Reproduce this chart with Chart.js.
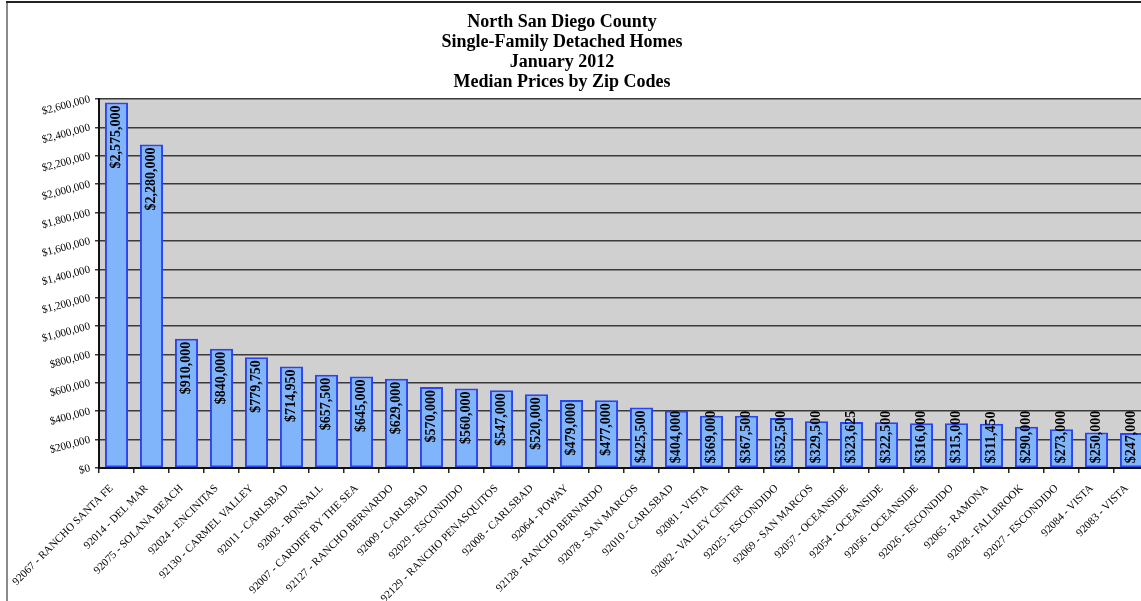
<!DOCTYPE html>
<html>
<head>
<meta charset="utf-8">
<script src="https://cdn.jsdelivr.net/npm/chart.js@4/dist/chart.umd.min.js"></script>
<style>
  html, body { margin: 0; padding: 0; overflow: hidden; background: #fff; }
  #wrap { width: 1150px; height: 601px; }
</style>
</head>
<body>
<div id="wrap"><canvas id="priceChart" width="1150" height="601"></canvas></div>
<script>
// Median prices by zip code, January 2012
const zipCodes = [
    '92067 - RANCHO SANTA FE', '92014 - DEL MAR', '92075 - SOLANA BEACH', '92024 - ENCINITAS',
    '92130 - CARMEL VALLEY', '92011 - CARLSBAD', '92003 - BONSALL', '92007 - CARDIFF BY THE SEA',
    '92127 - RANCHO BERNARDO', '92009 - CARLSBAD', '92029 - ESCONDIDO', '92129 - RANCHO PENASQUITOS',
    '92008 - CARLSBAD', '92064 - POWAY', '92128 - RANCHO BERNARDO', '92078 - SAN MARCOS',
    '92010 - CARLSBAD', '92081 - VISTA', '92082 - VALLEY CENTER', '92025 - ESCONDIDO',
    '92069 - SAN MARCOS', '92057 - OCEANSIDE', '92054 - OCEANSIDE', '92056 - OCEANSIDE',
    '92026 - ESCONDIDO', '92065 - RAMONA', '92028 - FALLBROOK', '92027 - ESCONDIDO',
    '92084 - VISTA', '92083 - VISTA'
];
const medianPrices = [
    2575000, 2280000, 910000, 840000, 779750, 714950, 657500, 645000,
    629000, 570000, 560000, 547000, 520000, 479000, 477000, 425500,
    404000, 369000, 367500, 352500, 329500, 323625, 322500, 316000,
    315000, 311450, 290000, 273000, 250000, 247000
];
const titleLines = [
    'North San Diego County',
    'Single-Family Detached Homes',
    'January 2012',
    'Median Prices by Zip Codes'
];
const yMax = 2600000;
const yStep = 200000;

const serif = '"Liberation Serif", "Times New Roman", serif';
const money = v => '$' + Number(v).toLocaleString('en-US');

// White page, frame, grey plot area and the title
const backdrop = {
    id: 'backdrop',
    beforeDraw(chart) {
        const { ctx, chartArea } = chart;
        ctx.save();
        ctx.fillStyle = '#fff';
        ctx.fillRect(0, 0, chart.width, chart.height);
        ctx.fillStyle = '#d0d0d0';
        ctx.fillRect(chartArea.left, chartArea.top, chartArea.right - chartArea.left, chartArea.bottom - chartArea.top);
        ctx.strokeStyle = '#8a8a8a';
        ctx.lineWidth = 2;
        ctx.beginPath();
        ctx.moveTo(7, 2);
        ctx.lineTo(7, chart.height);
        ctx.stroke();
        ctx.strokeStyle = '#222';
        ctx.beginPath();
        ctx.moveTo(6, 2);
        ctx.lineTo(chart.width, 2);
        ctx.stroke();

        ctx.fillStyle = '#000';
        ctx.font = 'bold 18px ' + serif;
        ctx.textAlign = 'center';
        ctx.textBaseline = 'middle';
        titleLines.forEach((line, i) => ctx.fillText(line, 562, 22 + i * 20));
        ctx.restore();
    }
};

// Vertical value labels inside the top of each bar
const barLabels = {
    id: 'barLabels',
    afterDatasetsDraw(chart) {
        const { ctx } = chart;
        const meta = chart.getDatasetMeta(0);
        ctx.save();
        ctx.font = 'bold 14px ' + serif;
        ctx.fillStyle = '#000';
        ctx.textAlign = 'right';
        ctx.textBaseline = 'middle';
        meta.data.forEach((bar, i) => {
            const text = money(medianPrices[i]);
            const w = ctx.measureText(text).width;
            const top = Math.min(bar.y + 3, bar.base - 4 - w);
            ctx.save();
            ctx.translate(bar.x, top);
            ctx.rotate(-Math.PI / 2);
            ctx.fillText(text, 0, 0);
            ctx.restore();
        });
        ctx.restore();
    }
};

const ctx = document.getElementById('priceChart').getContext('2d');
new Chart(ctx, {
    type: 'bar',
    data: {
        labels: zipCodes,
        datasets: [{
            label: 'Median Price',
            data: medianPrices,
            backgroundColor: '#80b4fb',
            borderColor: '#2a44f0',
            borderWidth: 2,
            borderSkipped: false,
            barPercentage: 0.66,
            categoryPercentage: 1.0
        }]
    },
    options: {
        responsive: false,
        animation: false,
        layout: { padding: { left: 0, top: 99, right: 1, bottom: 0 } },
        plugins: {
            legend: { display: false },
            title: { display: false },
            tooltip: { enabled: false }
        },
        scales: {
            x: {
                afterFit(scale) { scale.height = 133; },
                grid: {
                    drawOnChartArea: false,
                    tickLength: 5,
                    color: '#222',
                    lineWidth: 1.5
                },
                border: { color: '#111', width: 2 },
                ticks: {
                    autoSkip: false,
                    minRotation: 45,
                    maxRotation: 45,
                    padding: 9,
                    labelOffset: -5,
                    color: '#000',
                    font: { family: serif, size: 11 }
                }
            },
            y: {
                min: 0,
                max: yMax,
                afterFit(scale) { scale.width = 99; },
                grid: {
                    color: '#3a3a3a',
                    lineWidth: 1.5,
                    tickLength: 4
                },
                border: { color: '#111', width: 2 },
                ticks: {
                    stepSize: yStep,
                    minRotation: 15,
                    maxRotation: 15,
                    padding: 5,
                    color: '#000',
                    font: { family: serif, size: 11 },
                    callback: value => money(value)
                }
            }
        }
    },
    plugins: [backdrop, barLabels]
});
</script>
</body>
</html>
